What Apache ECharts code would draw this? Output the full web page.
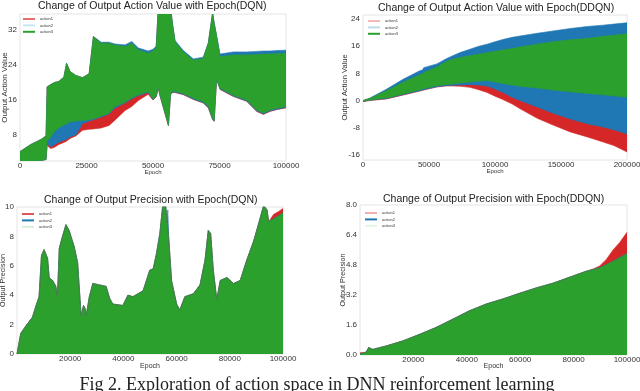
<!DOCTYPE html>
<html>
<head>
<meta charset="utf-8">
<script src="https://cdn.jsdelivr.net/npm/echarts@6/dist/echarts.min.js"></script>
<style>
html,body{margin:0;padding:0;background:#fff;}
#c{width:640px;height:391px;}
</style>
</head>
<body>
<div id="c"></div>
<script>
// ---------- Top-left: Output Action Value (DQN) ----------
const tlEpoch = [0,4000,8000,9800,10200,11500,13000,14500,16500,17500,18800,21000,23500,26000,27600,30500,33500,35700,39500,42000,44500,48200,50000,51200,52000,52600,53900,55800,56600,57400,58300,61400,65200,68900,70800,72400,73000,73900,75200,80200,85200,89000,91500,94000,96500,100000];
const tlAction1Low  = [1.9,2.0,2.2,2.4,5.6,4.9,5.2,5.8,6.3,6.6,7.2,7.8,9.1,9.3,9.4,9.6,10.2,11.4,13.6,14.5,15.9,17.3,16.0,16.7,18.7,17.0,14.2,10.1,17.2,17.7,17.7,17.2,16.1,15.3,14.2,11.5,11.1,20.7,18.4,16.8,15.7,13.4,12.7,13.4,13.8,14.2];
const tlAction1High = [4.2,5.8,7.0,7.8,19.0,19.5,20.0,20.2,21.2,24.4,22.5,21.6,21.1,22.0,30.5,29.0,29.0,28.6,28.2,29.0,27.4,26.7,27.2,28.0,37,37,37,37,37,33.0,29.3,27.0,25.1,25.5,28.9,35.8,33.5,30.5,25.9,26.3,26.3,26.4,26.5,26.5,26.6,26.7];
const tlAction2Low  = [1.9,2.0,2.2,2.4,6.0,5.3,5.8,6.3,6.8,7.0,7.6,8.0,10.6,11.2,11.5,12.1,12.8,14.2,15.3,16.3,17.0,17.7,16.1,16.8,18.8,17.1,14.3,10.2,17.3,17.8,17.8,17.3,16.2,15.4,14.3,11.6,11.2,20.8,18.5,16.9,15.8,13.5,12.8,13.5,13.9,14.3];
const tlAction2High = [4.2,5.8,7.0,7.8,19.0,19.5,20.0,20.2,21.2,24.4,22.5,21.6,21.1,22.0,30.5,29.2,29.2,28.8,28.6,29.4,27.9,27.2,27.6,28.3,37,37,37,37,37,33.2,29.6,27.3,25.4,25.8,29.1,36.0,33.7,30.8,26.5,27.0,27.0,27.1,27.2,27.2,27.3,27.4];
const tlAction3Low  = [1.9,2.0,2.2,2.4,6.6,7.5,8.8,9.6,10.3,10.5,11.0,11.2,11.3,11.5,11.7,12.3,13.0,14.5,15.5,16.5,17.2,17.9,16.3,17.0,19.0,17.3,14.5,10.3,17.5,18.0,18.0,17.5,16.4,15.6,14.5,11.8,11.4,21.0,18.7,17.1,16.0,13.7,13.0,13.7,14.1,14.5];
const tlAction3High = [4.2,5.8,7.0,7.8,19.0,19.5,20.0,20.2,21.2,24.4,22.5,21.6,21.1,22.0,30.5,29.0,29.0,28.6,28.2,29.0,27.4,26.7,27.2,28.0,37,37,37,37,37,33.0,29.3,27.0,25.1,25.5,28.9,35.8,33.5,30.5,25.9,26.3,26.3,26.4,26.5,26.5,26.6,26.7];
const tlYTicks = [8,16,24,32];

// ---------- Top-right: Output Action Value (DDQN) ----------
const trEpoch = [0,5000,18000,30000,43000,45000,46000,56000,63000,68000,74000,81000,87000,94000,100000,106000,113000,119000,132000,144000,157000,170000,182000,190000,200000];
const trAction1Low  = [-0.3,0.0,0.5,1.6,2.8,3.0,3.1,4.0,4.3,4.3,4.2,3.9,3.3,2.4,1.3,0.3,-1.0,-2.4,-5.2,-7.2,-9.2,-10.7,-12.2,-13.2,-15.1];
const trAction1High = [0,0.6,2.9,5.3,7.6,7.9,8.2,9.9,11.5,12.2,12.7,13.2,13.6,14.1,14.5,14.9,15.3,15.8,16.6,17.3,17.9,18.3,18.9,19.2,19.7];
const trAction2Low  = [-0.2,0.1,0.6,1.7,2.9,3.1,3.2,4.1,4.4,4.5,4.6,4.7,4.6,4.3,3.4,2.4,1.0,0.0,-1.9,-3.7,-5.4,-6.8,-7.8,-8.6,-9.8];
const trAction2High = [0,0.7,3.4,6.2,8.8,9.0,9.7,10.8,12.3,13.2,14.2,15.1,15.9,16.6,17.3,18.0,18.6,19.0,19.8,20.5,21.2,21.8,22.2,22.5,22.9];
const trAction3Low  = [-0.2,0.2,0.8,1.9,3.2,3.4,3.5,4.4,4.7,4.9,5.2,5.5,5.7,5.9,5.5,5.0,4.6,4.2,3.7,3.1,2.6,2.1,1.7,1.4,1.0];
const trAction3High = [0,0.6,2.9,5.3,7.6,7.9,8.2,9.9,11.5,12.2,12.7,13.2,13.6,14.1,14.5,14.9,15.3,15.8,16.6,17.3,17.9,18.3,18.9,19.2,19.7];
const trYTicks = [-16,-8,0,8,16,24];

// ---------- Bottom-left: Output Precision (DQN) ----------
const blEpoch = [0,1400,3300,5800,7000,8300,9200,10200,11500,12100,13400,14600,15200,15900,17100,18400,19600,21500,22800,24100,25000,25600,26000,27200,28500,31000,33500,34800,36000,39800,41700,43600,47400,49900,51200,52400,53700,54900,55800,56400,56700,57000,58100,60000,61200,63100,66300,68800,70700,71900,72800,73800,75100,76400,78900,81400,83900,86400,89000,91500,92700,94000,94600,96500,98400,100000];
const blAction1 = [0,1.4,1.9,2.5,3.2,3.9,6.7,7.1,6.5,5.2,5.0,4.6,3.9,7.2,8.0,8.8,8.4,7.3,6.2,2.6,3.3,3.1,2.6,3.9,4.8,4.7,4.6,3.8,3.4,3.3,4.0,3.9,4.3,5.7,5.8,6.8,8.2,10.3,10.3,9.0,8.6,8.0,5.0,3.4,3.0,3.9,4.1,4.7,6.4,8.4,8.2,5.7,3.7,5.0,5.2,4.8,5.0,6.4,7.7,9.3,10.1,9.8,9.0,9.5,9.7,9.9];
const blAction2 = [0,1.4,1.9,2.5,3.2,3.9,6.7,7.1,6.5,5.2,5.0,4.6,3.9,7.2,8.0,8.8,8.4,7.3,6.2,2.6,3.3,3.1,2.6,3.9,4.8,4.7,4.6,3.8,3.4,3.3,4.0,3.9,4.3,5.7,5.8,6.8,8.2,10.3,10.3,9.0,9.8,8.0,5.0,3.4,3.0,3.9,4.1,4.7,6.4,8.4,8.2,5.7,3.7,5.0,5.2,4.8,5.0,6.4,7.7,9.3,10.1,9.8,9.0,9.2,9.4,9.6];
const blAction3 = [0,1.4,1.9,2.5,3.2,3.9,6.7,7.1,6.5,5.2,5.0,4.6,3.9,7.2,8.0,8.8,8.4,7.3,6.2,2.6,3.3,3.1,2.6,3.9,4.8,4.7,4.6,3.8,3.4,3.3,4.0,3.9,4.3,5.7,5.8,6.8,8.2,10.3,10.3,9.0,8.6,8.0,5.0,3.4,3.0,3.9,4.1,4.7,6.4,8.4,8.2,5.7,3.7,5.0,5.2,4.8,5.0,6.4,7.7,9.3,10.1,9.8,9.0,9.2,9.4,9.6];

// ---------- Bottom-right: Output Precision (DDQN) ----------
const brEpoch = [0,2250,3250,4750,9750,16000,22250,28500,34750,41000,47250,53500,59750,66000,72250,78500,84750,87500,89750,92250,94750,97250,100000];
const brAction1 = [0.12,0.15,0.4,0.3,0.48,0.75,1.1,1.47,1.91,2.36,2.72,2.99,3.29,3.58,3.83,4.15,4.47,4.6,4.75,5.1,5.6,6.0,6.55];
const brAction2 = [0.05,0.15,0.4,0.3,0.48,0.75,1.1,1.47,1.91,2.36,2.72,2.99,3.29,3.58,3.83,4.15,4.47,4.56,4.65,4.82,5.0,5.2,5.4];
const brAction3 = [0.05,0.15,0.4,0.3,0.48,0.75,1.1,1.47,1.91,2.36,2.72,2.99,3.29,3.58,3.83,4.15,4.47,4.56,4.65,4.82,5.0,5.2,5.4];

const seriesNames = ['action1','action2','action3'];
const RED = '#d62728', BLUE = '#1f77b4', GREEN = '#2ca02c';
const FONT = 'Liberation Sans';

// A filled band between a low and a high curve, placed through the axis scales (api.coord)
function band(name, gi, xs, lo, hi, color) {
  return {
    type:'custom', name, xAxisIndex:gi, yAxisIndex:gi, clip:true, silent:true,
    itemStyle:{color},
    encode:{x:0, y:[1,2]},
    data: xs.map((x,i)=>[x, lo[i], hi[i]]),
    renderItem: function (params, api) {
      if (params.dataIndex !== 0) return null;
      const top = [], bottom = [];
      for (let i = 0; i < xs.length; i++) {
        top.push(api.coord([xs[i], hi[i]]));
        bottom.push(api.coord([xs[i], lo[i]]));
      }
      return { type:'polygon', shape:{points: top.concat(bottom.reverse())},
        style:{fill:color, stroke:color, lineWidth:0.6} };
    }
  };
}
function area(name, gi, xs, ys, color) {
  return { type:'line', name, xAxisIndex:gi, yAxisIndex:gi,
    data: xs.map((x,i)=>[x, ys[i]]), symbol:'none', showSymbol:false, silent:true,
    lineStyle:{width:0.6, color}, itemStyle:{color}, areaStyle:{color, opacity:1} };
}

const series = [
  band(seriesNames[0], 0, tlEpoch, tlAction1Low, tlAction1High, RED),
  band(seriesNames[1], 0, tlEpoch, tlAction2Low, tlAction2High, BLUE),
  band(seriesNames[2], 0, tlEpoch, tlAction3Low, tlAction3High, GREEN),
  band(seriesNames[0], 1, trEpoch, trAction1Low, trAction1High, RED),
  band(seriesNames[1], 1, trEpoch, trAction2Low, trAction2High, BLUE),
  band(seriesNames[2], 1, trEpoch, trAction3Low, trAction3High, GREEN),
  area(seriesNames[0], 2, blEpoch, blAction1, RED),
  area(seriesNames[1], 2, blEpoch, blAction2, BLUE),
  area(seriesNames[2], 2, blEpoch, blAction3, GREEN),
  area(seriesNames[0], 3, brEpoch, brAction1, RED),
  area(seriesNames[1], 3, brEpoch, brAction2, BLUE),
  area(seriesNames[2], 3, brEpoch, brAction3, GREEN)
];

const gridBase = { show:true, borderColor:'#e4e4e4', borderWidth:1, backgroundColor:'#fff', containLabel:false, outerBoundsMode:'none' };
const grids = [
  Object.assign({left:20, top:14, width:266, height:147}, gridBase),
  Object.assign({left:363, top:15, width:264, height:145}, gridBase),
  Object.assign({left:17, top:207, width:266, height:147}, gridBase),
  Object.assign({left:360, top:205, width:267, height:150}, gridBase)
];

const lbl = { fontSize:8, color:'#333', fontFamily:FONT };
function xAx(gi, max, interval, showMin, gap) {
  return { type:'value', gridIndex:gi, min:0, max, interval, name:'Epoch', nameLocation:'middle', nameGap:gap,
    nameMoveOverlap:false,
    nameTextStyle:{fontSize: gi < 2 ? 6 : 7, color:'#333', fontFamily:FONT},
    axisLine:{show:false}, axisTick:{show:false}, splitLine:{show:false},
    axisLabel:Object.assign({margin:1, showMinLabel:showMin, showMaxLabel:true, hideOverlap:false,
      formatter: v => String(Math.round(v))}, lbl) };
}
function yAx(gi, min, max, extra, name, gap, nameSize) {
  return Object.assign({ type:'value', gridIndex:gi, min, max, name, nameLocation:'middle', nameGap:gap,
    nameMoveOverlap:false,
    nameTextStyle:{fontSize:nameSize, color:'#333', fontFamily:FONT},
    axisLine:{show:false}, axisTick:{show:false}, splitLine:{show:false} }, extra);
}

const xAxis = [
  xAx(0, 100000, 25000, true, 8),
  xAx(1, 200000, 50000, true, 8),
  xAx(2, 100000, 20000, false, 9),
  xAx(3, 100000, 20000, false, 8)
];
const yAxis = [
  yAx(0, 2.06, 35.66, {axisLabel:Object.assign({margin:3, customValues:tlYTicks, formatter:v=>String(v)}, lbl)}, 'Output Action Value', 11, 8),
  yAx(1, -17.47, 25.18, {axisLabel:Object.assign({margin:3, customValues:trYTicks, formatter:v=>String(v)}, lbl)}, 'Output Action Value', 14, 7.5),
  yAx(2, 0, 10, {interval:2, axisLabel:Object.assign({margin:3, formatter:v=>String(v)}, lbl)}, 'Output Precision', 10.4, 7.2),
  yAx(3, 0, 8, {interval:1.6, axisLabel:Object.assign({margin:3, formatter:v=>v.toFixed(1)}, lbl)}, 'Output Precision', 13.4, 7.2)
];

const titleStyle = { fontSize:10.5, fontWeight:'normal', color:'#222', fontFamily:FONT };
const titles = [
  { text:'Change of Output Action Value with Epoch(DQN)', left:38, top:0.5, padding:0, textStyle:titleStyle },
  { text:'Change of Output Action Value with Epoch(DDQN)', left:378, top:2.5, padding:0, textStyle:titleStyle },
  { text:'Change of Output Precision with Epoch(DQN)', left:44, top:195, padding:0, textStyle:titleStyle },
  { text:'Change of Output Precision with Epoch(DDQN)', left:383, top:193.5, padding:0, textStyle:titleStyle }
];

function legendOf(left, top, cols) {
  return { orient:'vertical', left, top, padding:0, itemWidth:12, itemHeight:2, itemGap:2.4, icon:'rect',
    selectedMode:false, textStyle:{fontSize:4, color:'#333', fontFamily:FONT},
    data: seriesNames.map((n,i)=>({name:n, itemStyle:{color:cols[i]}})) };
}
const legends = [
  legendOf(23, 17, ['#e47070','#c8e6f2', GREEN]),
  legendOf(368, 19, ['#f4b8b8','#bcdcea', GREEN]),
  legendOf(22, 212, ['#e05555', BLUE, '#d8efd8']),
  legendOf(365, 211, ['#f2b0b0', BLUE, '#e3f4e3'])
];

const chart = echarts.init(document.getElementById('c'), null, {renderer:'canvas'});
chart.setOption({
  animation:false,
  backgroundColor:'#fff',
  title: titles,
  legend: legends,
  grid: grids,
  xAxis, yAxis, series,
  graphic: [{
    type:'text', x:317, y:376, silent:true,
    style:{ text:'Fig 2. Exploration of action space in DNN reinforcement learning',
      font:'18px "Liberation Serif"', fill:'#222', align:'center', verticalAlign:'top' }
  }]
});
</script>
</body>
</html>
